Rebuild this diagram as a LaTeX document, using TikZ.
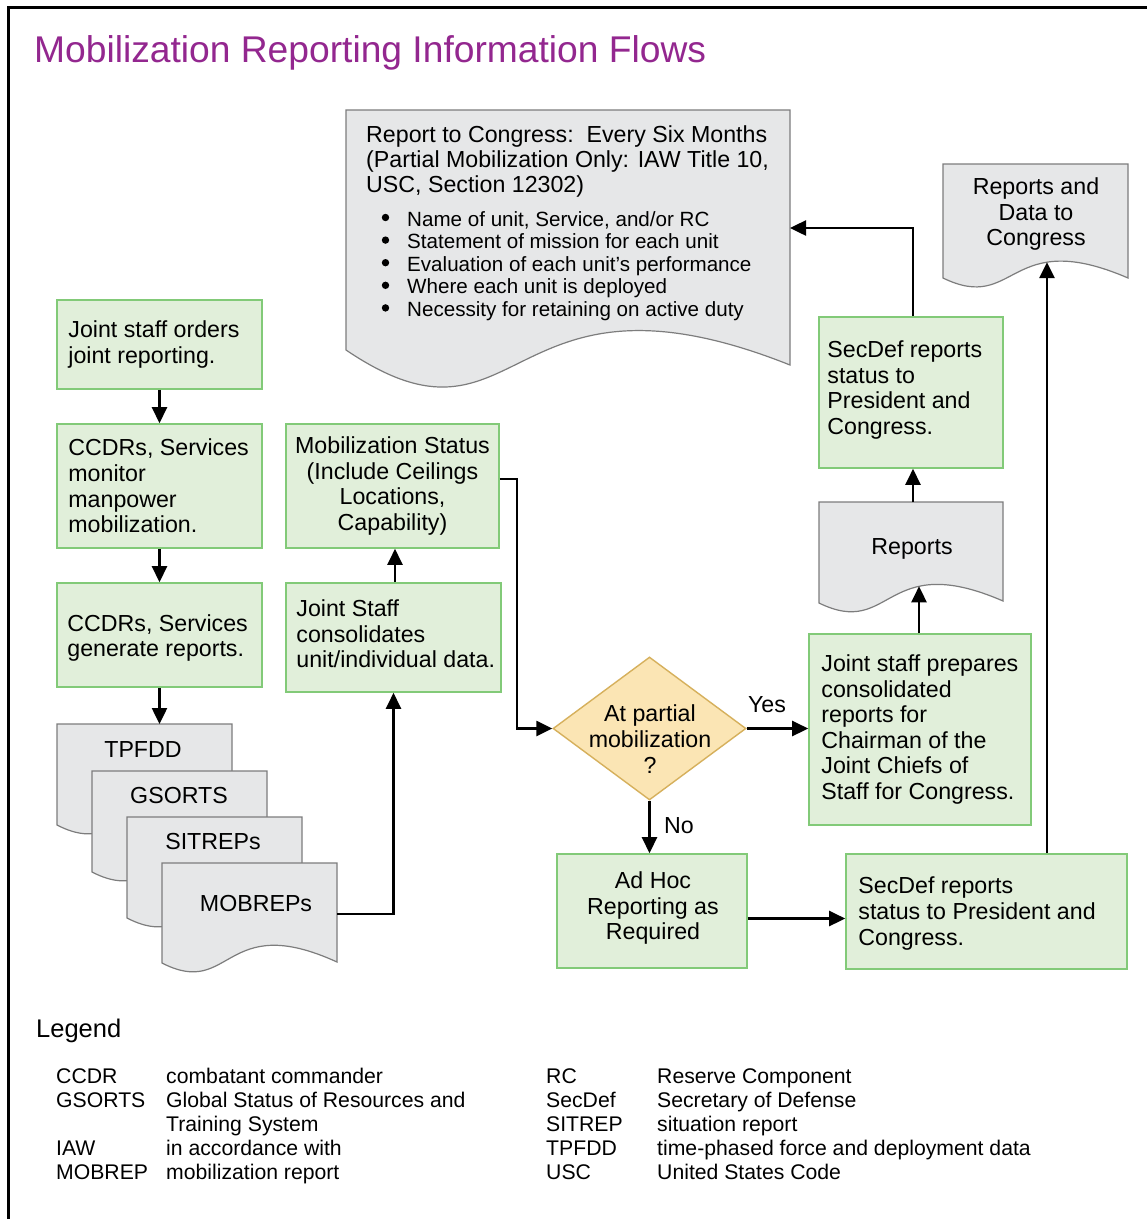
\documentclass[tikz,border=0pt]{standalone}
\usepackage{fontspec}
\setmainfont{Liberation Sans}
\usetikzlibrary{arrows.meta,shapes.geometric,intersections}
\definecolor{gfill}{RGB}{225,239,218}
\definecolor{gline}{RGB}{130,202,120}
\definecolor{dfill}{RGB}{230,231,232}
\definecolor{dline}{RGB}{125,125,125}
\definecolor{qfill}{RGB}{251,229,180}
\definecolor{qline}{RGB}{214,176,92}
\definecolor{ttl}{RGB}{147,39,143}
\newcommand\fmain{\fontsize{23.2}{25.6}\selectfont}
\newcommand\fbul{\fontsize{20.6}{22.6}\selectfont}
\newcommand\fleg{\fontsize{21.2}{24}\selectfont}
% x0, ytop, x1, yleftbottom, yrightbottom, d1, d2, pathname
\newcommand\docshape[8]{%
  \filldraw[docst,name path=#8] (#1,#2) -- (#3,#2) -- (#3,#5)
    .. controls ({#1+0.35*(#3-#1)},{#5-#7}) and ({#1+0.4*(#3-#1)},{#4+#6}) .. (#1,#4) -- cycle;}
\begin{document}
\begin{tikzpicture}[x=1pt,y=-1pt,inner sep=0pt,
  docst/.style={fill=dfill,draw=dline,line width=1.2pt},
  gbox/.style={draw=gline,fill=gfill,line width=1.6pt},
  arr/.style={line width=2.5pt,-{Triangle[length=16pt,width=15pt]}},
  txt/.style={font=\fmain},
  btxt/.style={font=\fbul,anchor=base west},
  ltxt/.style={font=\fleg,anchor=base west}]
\useasboundingbox (0,0) rectangle (1147,1219);
\fill[white] (0,0) rectangle (1147,1219);
% frame
\draw[line width=2.5pt] (1147,7.5) -- (8.7,7.5) -- (8.7,1219);
% title
\node[anchor=base west,font=\fontsize{37.2}{42}\selectfont,text=ttl] (title) at (34,62) {Mobilization Reporting Information Flows};

% big document
\docshape{346}{110}{790}{350}{365}{120}{115}{docBig}
\node[txt,anchor=base west] (h1) at (366,142) {Report to Congress:~~Every Six Months};
\node[txt,anchor=base west] (h2) at (366,167) {(Partial Mobilization Only: IAW Title 10,};
\node[txt,anchor=base west] (h3) at (366,192) {USC, Section 12302)};
\foreach \yy in {226,248.6,271.2,293.8,316.4}
  \fill (385.5,\yy-8.5) circle (3.7pt);
\node[btxt] (b1) at (407,226) {Name of unit, Service, and/or RC};
\node[btxt] (b2) at (407,248.6) {Statement of mission for each unit};
\node[btxt] (b3) at (407,271.2) {Evaluation of each unit’s performance};
\node[btxt] (b4) at (407,293.8) {Where each unit is deployed};
\node[btxt] (b5) at (407,316.4) {Necessity for retaining on active duty};
\coordinate (bigR) at (790,228);

% reports and data to congress
\docshape{943}{164}{1128}{278}{278}{36}{52}{docRD}
\node[txt,align=center] (RDt) at (1036,214) {Reports and\\Data to\\Congress};
\path[name path=vRD] (1047,230) -- (1047,330);
\path[name intersections={of=docRD and vRD,by={rdtip}}];

% reports
\docshape{819}{502}{1003}{603}{601}{36}{52}{docR}
\node[txt,anchor=base] (Rt) at (912,554) {Reports};
\path[name path=vR] (919,560) -- (919,640);
\path[name intersections={of=docR and vR,by={rtip}}];
\coordinate (rtop) at (913,502);

% document stack
\docshape{57}{724}{232}{825}{824}{36}{52}{docT}
\node[txt,anchor=base] (Tt) at (143,757) {TPFDD};
\docshape{92}{771}{267}{872}{871}{36}{52}{docG}
\node[txt,anchor=base] (Gt) at (179,803) {GSORTS};
\docshape{127}{817}{302}{918}{917}{36}{52}{docS}
\node[txt,anchor=base] (St) at (213,849) {SITREPs};
\docshape{162}{863}{337}{963}{962}{36}{52}{docM}
\node[txt,anchor=base] (Mt) at (256,911) {MOBREPs};
\coordinate (tpfddtop) at (160,724);
\coordinate (mobR) at (337,914);

% green boxes
\node[gbox,minimum width=205pt,minimum height=89pt] (A) at (159.5,344.5) {};
\node[txt,anchor=west,align=left] (At) at ([xshift=12pt]A.west) {Joint staff orders\\joint reporting.};
\node[gbox,minimum width=205pt,minimum height=124pt] (B) at (159.5,486) {};
\node[txt,anchor=west,align=left] (Bt) at ([xshift=12pt]B.west) {CCDRs, Services\\monitor\\manpower\\mobilization.};
\node[gbox,minimum width=205pt,minimum height=104pt] (C) at (159.5,635) {};
\node[txt,anchor=west,align=left] (Ct) at ([xshift=11pt,yshift=-3pt]C.west) {CCDRs, Services\\generate reports.};
\node[gbox,minimum width=213pt,minimum height=124pt] (D) at (392.5,486) {};
\node[txt,align=center] (Dt) at (D.center) {Mobilization Status\\(Include Ceilings\\Locations,\\Capability)};
\node[gbox,minimum width=215pt,minimum height=109pt] (E) at (393.5,637.5) {};
\node[txt,anchor=west,align=left] (Et) at ([xshift=11pt,yshift=3.5pt]E.west) {Joint Staff\\consolidates\\unit/individual data.};
\node[gbox,minimum width=184pt,minimum height=151pt] (F) at (911,392.5) {};
\node[txt,anchor=west,align=left] (Ft) at ([xshift=9pt,yshift=2.5pt]F.west) {SecDef reports\\status to\\President and\\Congress.};
\node[gbox,minimum width=222pt,minimum height=191pt] (G) at (920,729.5) {};
\node[txt,anchor=west,align=left] (Gtx) at ([xshift=13pt]G.west) {Joint staff prepares\\consolidated\\reports for\\Chairman of the\\Joint Chiefs of\\Staff for Congress.};
\node[gbox,minimum width=190pt,minimum height=114pt] (H) at (652,911) {};
\node[txt,align=center] (Ht) at (653,908) {Ad Hoc\\Reporting as\\Required};
\node[gbox,minimum width=281pt,minimum height=115pt] (I) at (986.5,911.5) {};
\node[txt,anchor=west,align=left] (It) at ([xshift=13pt,yshift=-2pt]I.west) {SecDef reports\\status to President and\\Congress.};

% decision
\node[diamond,draw=qline,fill=qfill,line width=1.4pt,minimum width=193pt,minimum height=143pt] (Q) at (649.5,728.5) {};
\node[txt,align=center] (Qt) at (650,739) {At partial\\mobilization\\?};
\node[txt] (yes) at (767,705) {Yes};
\node[txt] (no) at (679,826) {No};

% connectors
\draw[arr] (A.south) -- (B.north);
\draw[arr] (B.south) -- (C.north);
\draw[arr] (C.south) -- (C.south |- tpfddtop);
\draw[arr] (mobR) -| (E.south);
\draw[arr] ([xshift=1.5pt]E.north) -- ([xshift=1.5pt]E.north |- D.south);
\draw[arr] ([yshift=7pt]D.east) -- ++(17,0) |- (Q.west);
\draw[arr] (Q.east) -- (Q.east -| G.west);
\draw[arr] (Q.south) -- (Q.south |- H.north);
\draw[arr] ([yshift=-7.5pt]H.east) -- ([yshift=-7.5pt]H.east -| I.west);
\draw[arr] (rdtip |- I.north) -- (rdtip);
\draw[arr] (rtip |- G.north) -- (rtip);
\draw[arr] (rtop) -- (rtop |- F.south);
\draw[arr] (rtop |- F.north) |- (bigR);

% legend
\node[anchor=base west,font=\fontsize{25.5}{28}\selectfont] (leg) at (36,1037) {Legend};
\node[ltxt] (la1) at (56,1083) {CCDR};
\node[ltxt] (ld1) at (166,1083) {combatant commander};
\node[ltxt] (la2) at (56,1107) {GSORTS};
\node[ltxt] (ld2) at (166,1107) {Global Status of Resources and};
\node[ltxt] (ld3) at (166,1131) {Training System};
\node[ltxt] (la4) at (56,1155) {IAW};
\node[ltxt] (ld4) at (166,1155) {in accordance with};
\node[ltxt] (la5) at (56,1179) {MOBREP};
\node[ltxt] (ld5) at (166,1179) {mobilization report};
\node[ltxt] (ra1) at (546,1083) {RC};
\node[ltxt] (rd1) at (657,1083) {Reserve Component};
\node[ltxt] (ra2) at (546,1107) {SecDef};
\node[ltxt] (rd2) at (657,1107) {Secretary of Defense};
\node[ltxt] (ra3) at (546,1131) {SITREP};
\node[ltxt] (rd3) at (657,1131) {situation report};
\node[ltxt] (ra4) at (546,1155) {TPFDD};
\node[ltxt] (rd4) at (657,1155) {time-phased force and deployment data};
\node[ltxt] (ra5) at (546,1179) {USC};
\node[ltxt] (rd5) at (657,1179) {United States Code};
\end{tikzpicture}
\end{document}
